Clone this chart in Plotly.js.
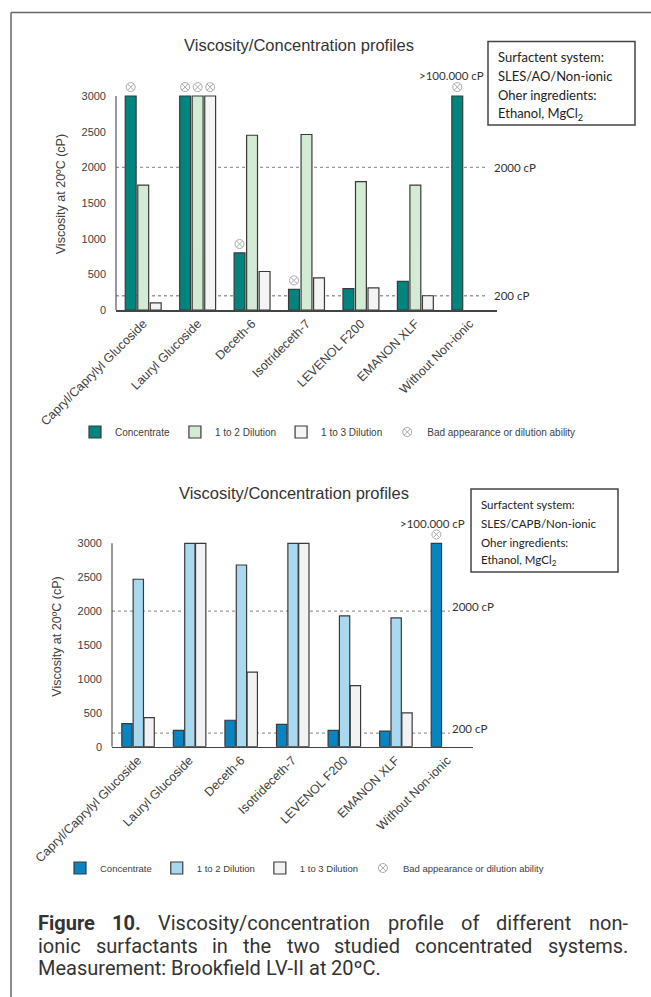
<!DOCTYPE html>
<html>
<head>
<meta charset="utf-8">
<script src="https://cdn.plot.ly/plotly-3.0.1.min.js"></script>
<style>html,body{margin:0;padding:0;background:#fff;}#chart{width:651px;height:997px;}</style>
</head>
<body>
<div id="chart"></div>
<script>
// ---------------- DATA ----------------
const categories = ["Capryl/Caprylyl Glucoside", "Lauryl Glucoside", "Deceth-6", "Isotrideceth-7", "LEVENOL F200", "EMANON XLF", "Without Non-ionic"];
const seriesNames = ["Concentrate", "1 to 2 Dilution", "1 to 3 Dilution"];
const badName = "Bad appearance or dilution ability";
const yTicks = [0, 500, 1000, 1500, 2000, 2500, 3000];
const thresholds = [2000, 200];
const thresholdLabels = ["2000 cP", "200 cP"];

// Top chart: SLES/AO/Non-ionic (values above 3000 shown capped at 3000)
const topConcentrate = [3000, 3000, 800, 290, 300, 400, 3000];
const topDil12 = [1750, 3000, 2450, 2460, 1800, 1750, null];
const topDil13 = [100, 3000, 540, 450, 310, 200, null];
const topBadConc = [1, 1, 1, 1, 0, 0, 1];
const topBadDil12 = [0, 1, 0, 0, 0, 0, 0];
const topBadDil13 = [0, 1, 0, 0, 0, 0, 0];

// Bottom chart: SLES/CAPB/Non-ionic
const botConcentrate = [340, 240, 390, 330, 240, 230, 3000];
const botDil12 = [2470, 3000, 2680, 3000, 1930, 1900, null];
const botDil13 = [430, 3000, 1100, 3000, 900, 500, null];
const botBadConc = [0, 0, 0, 0, 0, 0, 1];
const botBadDil12 = [0, 0, 0, 0, 0, 0, 0];
const botBadDil13 = [0, 0, 0, 0, 0, 0, 0];

const topBoxLines = ["Surfactent system:", "SLES/AO/Non-ionic", "Oher ingredients:", "Ethanol, MgCl<sub>2</sub>"];
const botBoxLines = ["Surfactent system:", "SLES/CAPB/Non-ionic", "Oher ingredients:", "Ethanol, MgCl<sub>2</sub>"];
const overLabel = ">100.000 cP";
const chartTitle = "Viscosity/Concentration profiles";
const yTitle = "Viscosity at 20ºC (cP)";
const captionLines = [
  "Figure 10. Viscosity/concentration profile of different non-",
  "ionic surfactants in the two studied concentrated systems.",
  "Measurement: Brookfield LV-II at 20ºC."
];

// ---------------- LAYOUT HELPERS ----------------
const W = 651, H = 997;
const px = p => p / W;
const py = p => 1 - p / H;
const idx = categories.map((c, i) => i);
const BW = 0.2;
const TXT = "#404040";
const OUT = "#3a3a3a";
const YMAX = 3250; // headroom so the markers above capped bars stay visible

function bars(vals, name, offset, color, xa, ya, leg) {
  return {
    type: "bar", name: name, x: idx, y: vals, offset: offset, width: BW,
    xaxis: xa, yaxis: ya, legend: leg,
    marker: { color: color, line: { color: OUT, width: 1.2 } },
    hoverinfo: "skip"
  };
}
function badTrace(list, xa, ya, leg, pad) {
  const xs = [], ys = [];
  list.forEach(([flags, vals, off]) => {
    flags.forEach((f, i) => { if (f) { xs.push(i + off + BW / 2); ys.push(vals[i] + pad); } });
  });
  return {
    type: "scatter", mode: "markers", name: badName, x: xs, y: ys, xaxis: xa, yaxis: ya, legend: leg,
    hoverinfo: "skip",
    marker: { symbol: "circle-x-open", size: 9, color: "#ababab", line: { width: 1, color: "#ababab" } }
  };
}

const offT = [-0.33, -0.1, 0.13];
const offB = [-0.31, -0.09, 0.12];
const colT = ["#00857e", "#d3ead3", "#f4f4f4"];
const colB = ["#0a84c0", "#a8d9ef", "#f2f2f2"];

const data = [
  bars(topConcentrate, seriesNames[0], offT[0], colT[0], "x", "y", "legend"),
  bars(topDil12, seriesNames[1], offT[1], colT[1], "x", "y", "legend"),
  bars(topDil13, seriesNames[2], offT[2], colT[2], "x", "y", "legend"),
  badTrace([[topBadConc, topConcentrate, offT[0]], [topBadDil12, topDil12, offT[1]], [topBadDil13, topDil13, offT[2]]], "x", "y", "legend", 125),
  bars(botConcentrate, seriesNames[0], offB[0], colB[0], "x2", "y2", "legend2"),
  bars(botDil12, seriesNames[1], offB[1], colB[1], "x2", "y2", "legend2"),
  bars(botDil13, seriesNames[2], offB[2], colB[2], "x2", "y2", "legend2"),
  badTrace([[botBadConc, botConcentrate, offB[0]], [botBadDil12, botDil12, offB[1]], [botBadDil13, botDil13, offB[2]]], "x2", "y2", "legend2", 130)
];

function xAxis(dom, anchor) {
  return {
    domain: dom, anchor: anchor, range: [-0.5, 6.5], tickvals: idx, ticktext: categories,
    tickangle: -45, tickfont: { family: "Arial, Liberation Sans", size: 12.5, color: TXT },
    showline: true, linecolor: "#444", linewidth: 1.5, ticks: "", showgrid: false, zeroline: false, fixedrange: true
  };
}
function yAxis(dom, anchor) {
  return {
    domain: dom, anchor: anchor, range: [0, YMAX], tickvals: yTicks,
    tickfont: { family: "Arial, Liberation Sans", size: 11, color: TXT },
    showline: false, ticks: "", showgrid: false, zeroline: false,
    ticklabelstandoff: 9,
    title: { text: yTitle, font: { family: "Arial, Liberation Sans", size: 12.5, color: TXT }, standoff: 13 },
    fixedrange: true
  };
}

// 0 -> px 310, 3000 -> px 96 (top); 0 -> 746.7, 3000 -> 543.3 (bottom)
const topScale = (310 - 96) / 3000, botScale = (746.7 - 543.3) / 3000;
const topX = [px(116), px(497)], topY = [py(310), py(310 - YMAX * topScale)];
const botX = [px(112), px(473)], botY = [py(746.7), py(746.7 - YMAX * botScale)];

const shapes = [
  // figure frame
  { type: "line", xref: "paper", yref: "paper", x0: px(11), x1: px(651), y0: py(12.5), y1: py(12.5), line: { color: "#666", width: 1.5 } },
  { type: "line", xref: "paper", yref: "paper", x0: px(11), x1: px(11), y0: py(12.5), y1: py(997), line: { color: "#666", width: 1.5 } },
  // info boxes
  { type: "rect", xref: "paper", yref: "paper", x0: px(488), x1: px(635), y0: py(41.5), y1: py(125), line: { color: "#444", width: 1.5 }, fillcolor: "rgba(0,0,0,0)" },
  { type: "rect", xref: "paper", yref: "paper", x0: px(471), x1: px(618), y0: py(489), y1: py(572), line: { color: "#444", width: 1.5 }, fillcolor: "rgba(0,0,0,0)" },
  // value axis lines, from first to last tick
  { type: "line", xref: "x domain", yref: "y", x0: 0, x1: 0, y0: yTicks[0], y1: yTicks[yTicks.length - 1], line: { color: "#555", width: 1.2 } },
  { type: "line", xref: "x2 domain", yref: "y2", x0: 0, x1: 0, y0: yTicks[0], y1: yTicks[yTicks.length - 1], line: { color: "#555", width: 1.2 } }
];
thresholds.forEach(t => {
  shapes.push({ type: "line", xref: "x domain", yref: "y", x0: 0, x1: 0.975, y0: t, y1: t, layer: "below", line: { color: "#9a9a9a", width: 1.3, dash: "dot" } });
  shapes.push({ type: "line", xref: "x2 domain", yref: "y2", x0: 0, x1: 0.936, y0: t, y1: t, layer: "below", line: { color: "#9a9a9a", width: 1.3, dash: "dot" } });
});

const annotations = [];
const topBoxFont = { family: "Lato, Carlito, sans-serif", size: 13, color: "#222" };
const botBoxFont = { family: "Lato, Carlito, sans-serif", size: 11.5, color: "#222" };
topBoxLines.forEach((t, i) => annotations.push({ xref: "paper", yref: "paper", x: px(496), y: py(57 + i * 19), xanchor: "left", yanchor: "middle", text: t, showarrow: false, font: topBoxFont }));
botBoxLines.forEach((t, i) => annotations.push({ xref: "paper", yref: "paper", x: px(479), y: py(505 + i * 18.5), xanchor: "left", yanchor: "middle", text: t, showarrow: false, font: botBoxFont }));
const smallFont = { family: "Lato, Carlito, sans-serif", size: 11.5, color: "#333" };
annotations.push({ xref: "paper", yref: "paper", x: px(486), y: py(75), xanchor: "right", yanchor: "middle", text: overLabel, showarrow: false, font: smallFont });
annotations.push({ xref: "paper", yref: "paper", x: px(467), y: py(523), xanchor: "right", yanchor: "middle", text: overLabel, showarrow: false, font: smallFont });
thresholds.forEach((t, i) => {
  annotations.push({ xref: "x domain", yref: "y", x: 0.987, y: t, xanchor: "left", yanchor: "middle", text: thresholdLabels[i], showarrow: false, font: smallFont });
  annotations.push({ xref: "x2 domain", yref: "y2", x: 0.937, y: t, yshift: 5, xanchor: "left", yanchor: "middle", text: thresholdLabels[i], showarrow: false, font: smallFont });
});
annotations.push({ xref: "paper", yref: "paper", x: px(294), y: py(493), xanchor: "center", yanchor: "middle", text: chartTitle, showarrow: false, font: { family: "Arial, Liberation Sans", size: 16.5, color: "#333" } });

// caption with justified lines
const capSize = 20, capLeft = 37, capRight = 627, capY = [923, 946, 968];
const cv = document.createElement("canvas").getContext("2d");
function measure(t, bold) { cv.font = (bold ? "bold " : "") + capSize + "px Roboto"; return cv.measureText(t).width; }
captionLines.forEach((line, li) => {
  const words = line.split(" ");
  const bolds = words.map((w, wi) => li === 0 && wi < 2);
  const widths = words.map((w, wi) => measure(w, bolds[wi]));
  const total = widths.reduce((a, b) => a + b, 0);
  const justify = li < captionLines.length - 1;
  const gap = justify ? (capRight - capLeft - total) / (words.length - 1) : measure(" ", false);
  let x = capLeft;
  words.forEach((w, wi) => {
    annotations.push({ xref: "paper", yref: "paper", x: px(x), y: py(capY[li]), xanchor: "left", yanchor: "middle",
      text: bolds[wi] ? "<b>" + w + "</b>" : w, showarrow: false, borderpad: 0,
      font: { family: "Roboto", size: capSize, color: "#333" } });
    x += widths[wi] + gap;
  });
});

const legendBase = { orientation: "h", xanchor: "left", yanchor: "middle", bgcolor: "rgba(0,0,0,0)", traceorder: "normal", itemwidth: 30 };
const layout = {
  width: W, height: H, margin: { l: 0, r: 0, t: 0, b: 0 }, paper_bgcolor: "#fff", plot_bgcolor: "rgba(0,0,0,0)",
  barmode: "overlay",
  title: { text: chartTitle, x: px(299), xanchor: "center", y: py(45), yanchor: "middle", font: { family: "Arial, Liberation Sans", size: 16.5, color: "#333" } },
  xaxis: xAxis(topX, "y"), yaxis: yAxis(topY, "x"),
  xaxis2: xAxis(botX, "y2"), yaxis2: yAxis(botY, "x2"),
  legend: Object.assign({}, legendBase, { x: px(75), y: py(432), font: { family: "Arial, Liberation Sans", size: 10, color: TXT } }),
  legend2: Object.assign({}, legendBase, { x: px(60), y: py(868), font: { family: "Arial, Liberation Sans", size: 9.5, color: TXT } }),
  shapes: shapes, annotations: annotations, showlegend: true
};

Plotly.newPlot("chart", data, layout, { displayModeBar: false, staticPlot: true });
</script>
</body>
</html>
